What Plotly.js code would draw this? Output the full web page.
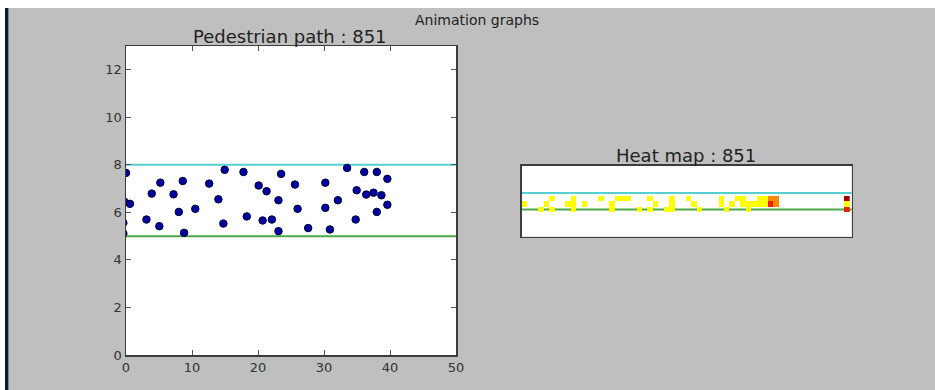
<!DOCTYPE html>
<html>
<head>
<meta charset="utf-8">
<script src="https://cdn.plot.ly/plotly-3.0.1.min.js"></script>
<style>
  html, body { margin: 0; padding: 0; background: #ffffff; width: 935px; height: 390px; overflow: hidden; }
  #edge1 { position: absolute; left: 5px; top: 8px; width: 3px; height: 382px; background: #0e1b2b; }
  #edge2 { position: absolute; left: 8px; top: 8px; width: 1px; height: 382px; background: #6f8aa6; }
  #chart { position: absolute; left: 9px; top: 8px; width: 926px; height: 382px; }
</style>
</head>
<body>
<div id="edge1"></div>
<div id="edge2"></div>
<div id="chart"></div>
<script>
// ---- Data ----
var frameNumber = 851;
var pedX = [0.0, -0.2, -0.4, -0.4, 0.6, 3.1, 3.9, 5.05, 5.2, 7.2, 8.0, 8.6, 8.8, 10.5, 12.6, 14.0, 14.75, 14.95, 17.8, 18.3, 20.1, 20.7, 21.3, 22.1, 23.1, 23.1, 23.5, 25.6, 26.0, 27.6, 30.2, 30.2, 30.9, 32.1, 33.5, 34.8, 34.95, 36.1, 36.4, 37.5, 38.0, 38.0, 38.7, 39.6, 39.6];
var pedY = [7.66, 6.44, 5.56, 5.11, 6.36, 5.70, 6.79, 5.42, 7.25, 6.76, 6.02, 7.32, 5.14, 6.15, 7.21, 6.55, 5.53, 7.79, 7.70, 5.83, 7.13, 5.66, 6.89, 5.70, 6.51, 5.21, 7.62, 7.17, 6.15, 5.34, 7.25, 6.19, 5.28, 6.51, 7.87, 5.70, 6.93, 7.70, 6.75, 6.83, 7.70, 6.02, 6.72, 7.41, 6.32];
var laneTop = 8;
var laneBottom = 5;
var pathXTicks = [0, 10, 20, 30, 40, 50];
var pathYTicks = [0, 2, 4, 6, 8, 10, 12];
var gridCols = 60;
var gridRows = 13;
// heat map occupied cells: column, row, count
var heatCols   = [0, 3, 4, 5, 5, 8, 9, 9, 9, 11, 14, 16, 16, 17, 18, 19, 21, 23, 23, 24, 26, 27, 27, 27, 30, 31, 32, 36, 36, 37, 38, 39, 40, 40, 41, 41, 42, 43, 43, 44, 44, 45, 45, 46, 46, 59, 59, 59];
var heatRows   = [6, 5, 6, 7, 5, 6, 7, 6, 5, 6,  7,  6,  5,  7,  7,  7,  5,  7,  5,  6,  5,  7,  6,  5,  7,  6,  5,  7,  6,  5,  6,  7,  7,  6,  5,  6,  6,  7,  6,  6,  7,  6,  7,  6,  7,  7,  6,  5];
var heatCounts = [1, 1, 1, 1, 1, 1, 1, 1, 1, 1,  1,  1,  1,  1,  1,  1,  1,  1,  1,  1,  1,  1,  1,  1,  1,  1,  1,  1,  1,  1,  1,  1,  1,  1,  1,  1,  1,  1,  1,  1,  1,  3,  2,  2,  2,  4,  1,  3];

// ---- Build heat matrix ----
var heatZ = [];
for (var r = 0; r < gridRows; r++) {
  var row = [];
  for (var c = 0; c < gridCols; c++) row.push(null);
  heatZ.push(row);
}
for (var i = 0; i < heatCols.length; i++) heatZ[heatRows[i]][heatCols[i]] = heatCounts[i];
var heatXs = [], heatYs = [];
for (var c2 = 0; c2 < gridCols; c2++) heatXs.push(c2);
for (var r2 = 0; r2 < gridRows; r2++) heatYs.push(r2);

var W = 926, H = 382;
var frameColor = '#3c3c3c';
var cyan = '#55d0d0';
var green = '#4aa84a';

var traces = [
  {
    type: 'scatter', mode: 'markers', x: pedX, y: pedY, xaxis: 'x', yaxis: 'y',
    marker: { color: '#0000a0', size: 7.5, line: { color: '#000033', width: 1 } },
    cliponaxis: true, hoverinfo: 'skip', showlegend: false
  },
  {
    type: 'heatmap', x: heatXs, y: heatYs, z: heatZ, xaxis: 'x2', yaxis: 'y2',
    zmin: 1, zmax: 4, showscale: false, hoverinfo: 'skip',
    colorscale: [[0, '#ffff00'], [0.16, '#ffff00'], [0.17, '#ff8800'], [0.5, '#ff8800'], [0.51, '#ee2200'], [0.83, '#ee2200'], [0.84, '#a00000'], [1, '#a00000']]
  }
];

function hline(xr, yr, yv, col) {
  return { type: 'line', xref: xr + ' domain', yref: yr, x0: 0, x1: 1, y0: yv, y1: yv,
           line: { color: col, width: 2 }, layer: 'below' };
}

var layout = {
  width: W, height: H,
  margin: { l: 0, r: 0, t: 0, b: 0 },
  paper_bgcolor: '#bfbfbf',
  plot_bgcolor: '#ffffff',
  font: { family: 'DejaVu Sans, sans-serif', color: '#222222' },
  showlegend: false,
  xaxis: {
    domain: [117 / W, 447 / W], range: [0, 50], tickvals: pathXTicks,
    ticks: 'inside', ticklen: 5, tickcolor: '#555', mirror: 'allticks',
    showline: true, linecolor: frameColor, linewidth: 1.5,
    showgrid: false, zeroline: false, tickfont: { size: 13, color: '#333' }
  },
  yaxis: {
    domain: [1 - 347 / H, 1 - 38 / H], range: [0, 13], tickvals: pathYTicks,
    ticks: 'inside', ticklen: 5, tickcolor: '#555', mirror: 'allticks',
    showline: true, linecolor: frameColor, linewidth: 1.5,
    showgrid: false, zeroline: false, tickfont: { size: 13, color: '#333' }
  },
  xaxis2: {
    domain: [512.7 / W, 842.7 / W], range: [-0.5, 59.8], anchor: 'y2',
    showticklabels: false, ticks: '', showline: true, mirror: true,
    linecolor: frameColor, linewidth: 1.5, showgrid: false, zeroline: false
  },
  yaxis2: {
    domain: [1 - 228.7 / H, 1 - 157.7 / H], range: [0, 13], anchor: 'x2',
    showticklabels: false, ticks: '', showline: true, mirror: true,
    linecolor: frameColor, linewidth: 1.5, showgrid: false, zeroline: false
  },
  shapes: [
    hline('x', 'y', laneTop, cyan), hline('x', 'y', laneBottom, green),
    hline('x2', 'y2', laneTop, cyan), hline('x2', 'y2', laneBottom, green)
  ],
  annotations: [
    { text: 'Animation graphs', xref: 'paper', yref: 'paper', x: 468 / W, y: 1 - 12 / H,
      xanchor: 'center', yanchor: 'middle', showarrow: false, font: { size: 14, color: '#222' } },
    { text: 'Pedestrian path : ' + frameNumber, xref: 'paper', yref: 'paper', x: 281 / W, y: 1 - 28.5 / H,
      xanchor: 'center', yanchor: 'middle', showarrow: false, font: { size: 18, color: '#222' } },
    { text: 'Heat map : ' + frameNumber, xref: 'paper', yref: 'paper', x: 677 / W, y: 1 - 147.5 / H,
      xanchor: 'center', yanchor: 'middle', showarrow: false, font: { size: 18, color: '#222' } }
  ]
};

Plotly.newPlot('chart', traces, layout, { staticPlot: true, displayModeBar: false });
</script>
</body>
</html>
